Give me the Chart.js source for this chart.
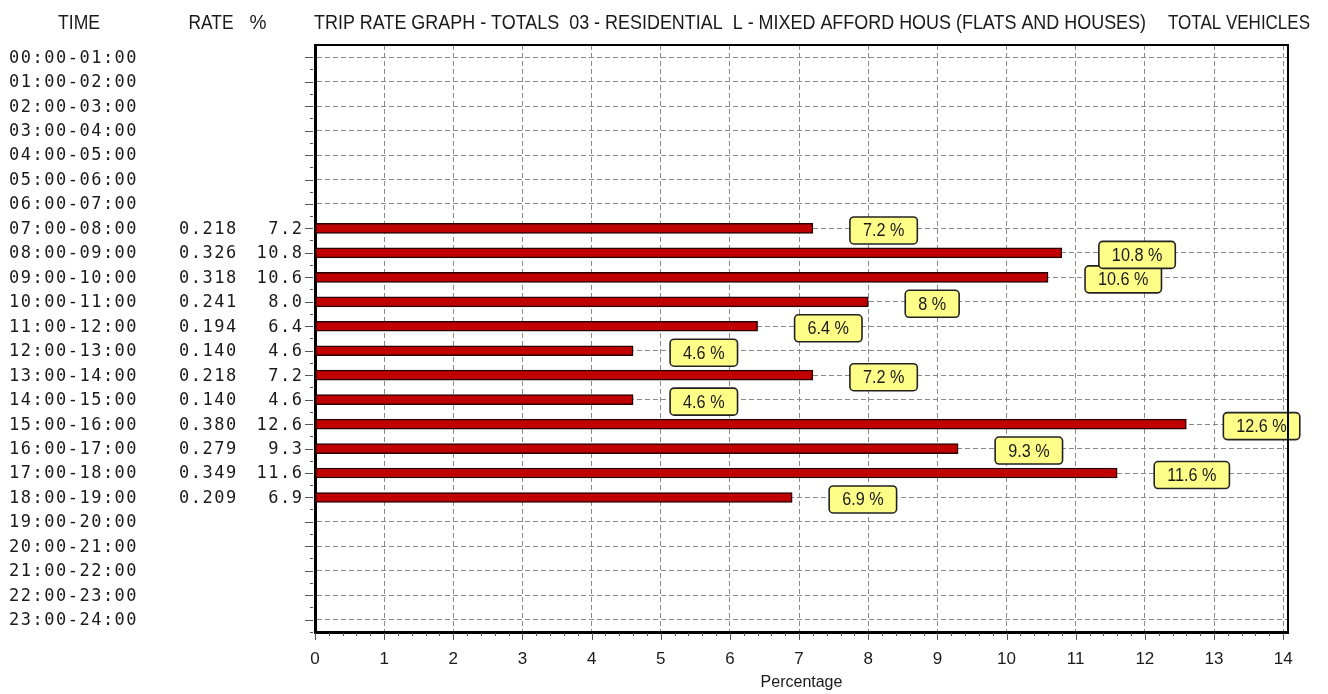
<!DOCTYPE html>
<html>
<head>
<meta charset="utf-8">
<title>Trip rate graph</title>
<script src="https://cdn.jsdelivr.net/npm/chart.js@4.4.1/dist/chart.umd.min.js"></script>
<style>
  html, body { margin: 0; padding: 0; background: #fff; }
  #graficoTrip { display: block; }
</style>
</head>
<body>
<canvas id="graficoTrip" width="1328" height="694"></canvas>
<script>
// dados
let horarios = ["00:00-01:00", "01:00-02:00", "02:00-03:00", "03:00-04:00", "04:00-05:00", "05:00-06:00",
  "06:00-07:00", "07:00-08:00", "08:00-09:00", "09:00-10:00", "10:00-11:00", "11:00-12:00",
  "12:00-13:00", "13:00-14:00", "14:00-15:00", "15:00-16:00", "16:00-17:00", "17:00-18:00",
  "18:00-19:00", "19:00-20:00", "20:00-21:00", "21:00-22:00", "22:00-23:00", "23:00-24:00"];

let taxas = [null, null, null, null, null, null, null,
  0.218, 0.326, 0.318, 0.241, 0.194, 0.140, 0.218, 0.140, 0.380, 0.279, 0.349, 0.209,
  null, null, null, null, null];

let percentuais = [null, null, null, null, null, null, null,
  7.2, 10.8, 10.6, 8.0, 6.4, 4.6, 7.2, 4.6, 12.6, 9.3, 11.6, 6.9,
  null, null, null, null, null];

let ticksX = [0, 1, 2, 3, 4, 5, 6, 7, 8, 9, 10, 11, 12, 13, 14];

let tituloGrafico = "TRIP RATE GRAPH - TOTALS  03 - RESIDENTIAL  L - MIXED AFFORD HOUS (FLATS AND HOUSES)";
let tituloDireita = "TOTAL VEHICLES";

// textos da esquerda, cabecalho e moldura
const textosLaterais = {
  id: 'textosLaterais',
  afterDraw(chart) {
    const ctx = chart.ctx;
    const escalaY = chart.scales.y;
    const escalaX = chart.scales.x;
    const area = chart.chartArea;
    const passo = 11.73;
    ctx.save();

    // colunas de horario, taxa e %
    ctx.fillStyle = '#1a1a1a';
    ctx.textBaseline = 'middle';
    ctx.textAlign = 'left';
    ctx.font = '17px "DejaVu Sans Mono"';
    ctx.letterSpacing = '1.5px';
    for (var i = 0; i < horarios.length; i++) {
      var py = escalaY.getPixelForValue(i) + 1;
      ctx.fillText(horarios[i], 9, py);
      if (taxas[i] !== null) {
        var pct = percentuais[i].toFixed(1);
        ctx.fillText(taxas[i].toFixed(3), 179, py);
        ctx.fillText(pct, 302 - pct.length * passo + 1.5, py);
      }
    }
    ctx.letterSpacing = '0px';

    // cabecalho
    ctx.font = '21px "Liberation Sans"';
    ctx.textAlign = 'center';
    ctx.fillText('TIME', 79, 23, 42);
    ctx.fillText('RATE', 211, 23, 45);
    ctx.fillText('%', 258, 23, 17);
    ctx.textAlign = 'left';
    ctx.fillText(tituloGrafico, 314, 23, 832);
    ctx.fillText(tituloDireita, 1168, 23, 142);

    // moldura de cima e da direita
    ctx.strokeStyle = '#000';
    ctx.lineWidth = 2;
    ctx.beginPath();
    ctx.moveTo(area.left, area.top);
    ctx.lineTo(area.right, area.top);
    ctx.lineTo(area.right, area.bottom);
    ctx.stroke();

    // tracinhos menores nos eixos
    ctx.lineWidth = 1;
    ctx.strokeStyle = '#555';
    ctx.beginPath();
    for (var v = 0; v <= 70; v++) {
      var px = escalaX.getPixelForValue(v / 5);
      var tam = (v % 5 === 0) ? 7 : 3;
      ctx.moveTo(Math.round(px) + 0.5, area.bottom + 1);
      ctx.lineTo(Math.round(px) + 0.5, area.bottom + 1 + tam);
    }
    for (var j = 0; j < horarios.length; j++) {
      var yy = Math.round(escalaY.getPixelForValue(j)) + 0.5;
      ctx.moveTo(area.left - 2, yy);
      ctx.lineTo(area.left - 10, yy);
      ctx.moveTo(area.left - 2, yy + 12);
      ctx.lineTo(area.left - 5, yy + 12);
    }
    ctx.stroke();
    ctx.restore();
  }
};

// caixinhas amarelas com o valor
const caixasValores = {
  id: 'caixasValores',
  afterDatasetsDraw(chart) {
    const ctx = chart.ctx;
    const meta = chart.getDatasetMeta(0);
    ctx.save();
    ctx.font = '18px "Liberation Sans"';
    ctx.textAlign = 'center';
    ctx.textBaseline = 'middle';
    for (var i = meta.data.length - 1; i >= 0; i--) {
      if (percentuais[i] === null) continue;
      var barra = meta.data[i];
      var texto = String(percentuais[i]) + ' %';
      var larguraTexto = ctx.measureText(texto).width * 0.9;
      var largura = larguraTexto + 26;
      var altura = 27;
      var x0 = barra.x + 37;
      var y0 = barra.y + 2 - altura / 2;
      ctx.beginPath();
      ctx.roundRect(x0, y0, largura, altura, 4);
      ctx.fillStyle = '#fdfd88';
      ctx.fill();
      ctx.lineWidth = 1.6;
      ctx.strokeStyle = '#222';
      ctx.stroke();
      ctx.fillStyle = '#1a1a1a';
      ctx.fillText(texto, x0 + largura / 2, y0 + altura / 2 + 1, larguraTexto);
    }
    ctx.restore();
  }
};

function plotarGrafico() {
  let dados = {
    labels: horarios,
    datasets: [{
      label: 'Percentage',
      data: percentuais,
      backgroundColor: '#c00000',
      borderColor: '#2a0000',
      borderWidth: 1.5,
      borderSkipped: false,
      barThickness: 10
    }]
  };

  const config = {
    type: 'bar',
    data: dados,
    options: {
      indexAxis: 'y',
      responsive: false,
      animation: false,
      layout: { padding: { top: 45, right: 40, left: 0, bottom: 0 } },
      plugins: {
        legend: { display: false },
        tooltip: { enabled: false }
      },
      scales: {
        x: {
          type: 'linear',
          min: 0,
          max: 14.07,
          afterBuildTicks: function (escala) {
            escala.ticks = ticksX.map(function (v) { return { value: v }; });
          },
          afterFit: function (escala) { escala.height = 62; },
          ticks: {
            color: '#1a1a1a',
            padding: 17,
            font: { family: 'Liberation Sans', size: 17 }
          },
          grid: { color: '#8a8a8a', lineWidth: 1, drawTicks: false },
          border: { display: true, color: '#000', width: 3, dash: [5, 3] },
          title: {
            display: true,
            text: 'Percentage',
            color: '#1a1a1a',
            font: { family: 'Liberation Sans', size: 16 },
            padding: { top: 0, bottom: 2 }
          }
        },
        y: {
          type: 'category',
          offset: true,
          afterFit: function (escala) { escala.width = 315; },
          ticks: { display: false },
          grid: { color: '#8a8a8a', lineWidth: 1, offset: false, drawTicks: false },
          border: { display: true, color: '#000', width: 3, dash: [5, 3] }
        }
      }
    },
    plugins: [caixasValores, textosLaterais]
  };

  let myChart = new Chart(document.getElementById('graficoTrip'), config);
}

plotarGrafico();
</script>
</body>
</html>
